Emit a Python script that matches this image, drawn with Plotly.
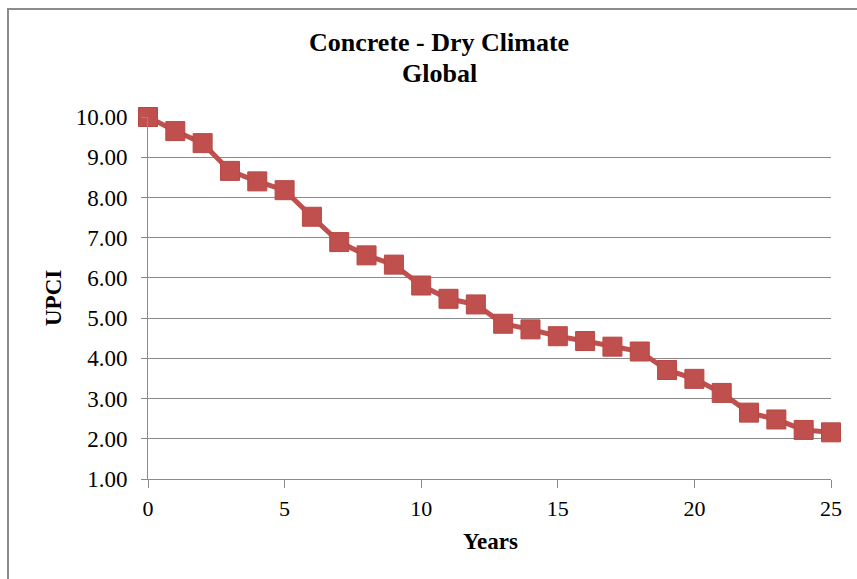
import plotly.graph_objects as go

# UPCI deterioration curve, concrete pavements, dry climate
years = list(range(0, 26))
upci = [10.00, 9.65, 9.35, 8.66, 8.40, 8.18, 7.52, 6.89, 6.56, 6.33,
        5.81, 5.48, 5.34, 4.86, 4.72, 4.55, 4.43, 4.29, 4.17, 3.71,
        3.49, 3.14, 2.65, 2.48, 2.22, 2.16]

x_ticks = [0, 5, 10, 15, 20, 25]
y_ticks = [1, 2, 3, 4, 5, 6, 7, 8, 9, 10]
y_tick_labels = [f"{v:.2f}" for v in y_ticks]

RED = "#C0504D"
GRID = "#8a8a8a"
FONT = "Liberation Serif, Times New Roman, serif"

W, H = 857, 579
L, R, T, B = 148, 26, 117, 100
pw, ph = W - L - R, H - T - B


def px_x(p):
    return (p - L) / pw


def px_y(p):
    return (H - B - p) / ph


fig = go.Figure(
    go.Scatter(
        x=years, y=upci, mode="lines+markers",
        line=dict(color=RED, width=5),
        marker=dict(symbol="square", size=19, color=RED,
                    line=dict(color="#b84844", width=1)),
        cliponaxis=False, showlegend=False,
    )
)

fig.update_layout(
    width=W, height=H,
    margin=dict(l=L, r=R, t=T, b=B),
    paper_bgcolor="white", plot_bgcolor="white",
    font=dict(family=FONT, color="black", size=22),
    xaxis=dict(
        range=[0, 25], tickvals=x_ticks, ticks="outside", ticklen=8,
        tickcolor=GRID, showline=True, linecolor=GRID, linewidth=1,
        showgrid=False, zeroline=False, tickfont=dict(size=22),
        ticklabelstandoff=2,
    ),
    yaxis=dict(
        range=[1, 10], tickvals=y_ticks, ticktext=y_tick_labels,
        ticks="outside", ticklen=6, tickcolor=GRID, showline=True,
        linecolor=GRID, linewidth=1, showgrid=True, gridcolor=GRID,
        gridwidth=1, zeroline=False, tickfont=dict(size=23),
        ticklabelstandoff=9,
    ),
    shapes=[
        dict(type="rect", xref="paper", yref="paper",
             x0=px_x(8), x1=px_x(W + 20), y0=px_y(H + 20), y1=px_y(9),
             line=dict(color="#8c8c8c", width=2), layer="below"),
    ],
    annotations=[
        dict(text="<b>Concrete - Dry Climate</b>",
             xref="paper", yref="paper", x=px_x(439), y=px_y(43),
             xanchor="center", yanchor="middle", showarrow=False,
             font=dict(size=26, family=FONT)),
        dict(text="<b>Global</b>",
             xref="paper", yref="paper", x=px_x(439), y=px_y(73),
             xanchor="center", yanchor="middle", showarrow=False,
             font=dict(size=26, family=FONT)),
        dict(text="<b>UPCI</b>", xref="paper", yref="paper",
             x=px_x(53), y=px_y(298), textangle=-90,
             xanchor="center", yanchor="middle", showarrow=False,
             font=dict(size=23, family=FONT)),
        dict(text="<b>Years</b>", xref="paper", yref="paper",
             x=px_x(490), y=px_y(541), xanchor="center", yanchor="middle",
             showarrow=False, font=dict(size=23, family=FONT)),
    ],
)

fig.write_html("out.html")
